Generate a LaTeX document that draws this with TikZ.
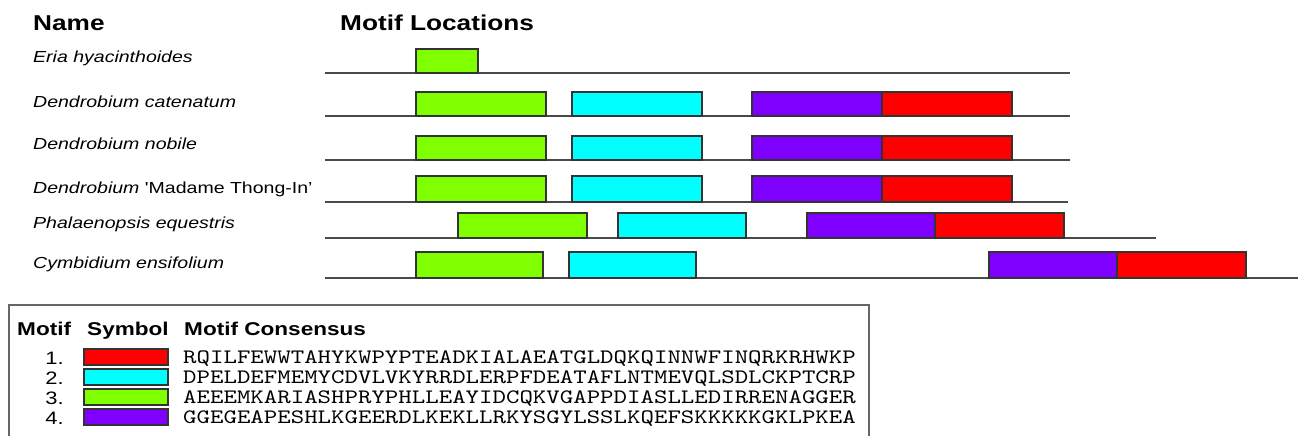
\documentclass[tikz,border=0pt]{standalone}
\usepackage{fontspec}
\usepackage{xcolor}
\newfontfamily\widesans{Liberation Sans}[FakeStretch=1.22]
\newfontfamily\widemono{lmmono10-regular.otf}[FakeStretch=1.25]
\definecolor{motifred}{HTML}{FF0000}
\definecolor{motifcyan}{HTML}{00FFFF}
\definecolor{motifgreen}{HTML}{80FF00}
\definecolor{motifpurple}{HTML}{8000FF}
\definecolor{seqline}{HTML}{4A4A4A}
\definecolor{legendframe}{HTML}{666666}

\begin{document}
\begin{tikzpicture}[x=1pt, y=-1pt,
  head/.style={anchor=base west, inner sep=0pt, font=\widesans\fontsize{21.5}{24}\selectfont\bfseries},
  species/.style={anchor=base west, inner sep=0pt, font=\widesans\fontsize{16}{19}\selectfont\itshape},
  seq/.style={draw=seqline, line width=2pt},
  motifbox/.style={draw=black!80, line width=1.4pt},
  legendhead/.style={anchor=base west, inner sep=0pt, font=\widesans\fontsize{18.5}{21}\selectfont\bfseries},
  motifnum/.style={anchor=base east, inner sep=0pt, font=\widesans\fontsize{18}{20}\selectfont},
  consensus/.style={anchor=base west, inner sep=0pt, font=\widemono\fontsize{20.5}{22}\selectfont}
]
\useasboundingbox[fill=white] (0,0) rectangle (1298,436);

% headers
\node[head] (namehead) at (33,31) {Name};
\node[head] (lochead) at (340,31) {Motif Locations};

% species
\node[species] (eria) at (33,63) {Eria hyacinthoides};
\node[species] (dcat) at (33,107) {Dendrobium catenatum};
\node[species] (dnob) at (33,149) {Dendrobium nobile};
\node[species] (dmad) at (33,193) {Dendrobium \textup{'Madame Thong-In’}};
\node[species] (phal) at (33,228) {Phalaenopsis equestris};
\node[species] (cymb) at (33,268) {Cymbidium ensifolium};

% sequence lines
\draw[seq] (325,73) -- (1070,73);
\draw[seq] (325,116) -- (1070,116);
\draw[seq] (325,160) -- (1070,160);
\draw[seq] (325,202) -- (1068,202);
\draw[seq] (325,238) -- (1156,238);
\draw[seq] (325,278) -- (1298,278);

% motif locations
\draw[motifbox, fill=motifgreen] (416,49) rectangle (478,73);

\draw[motifbox, fill=motifgreen] (416,92) rectangle (546,116);
\draw[motifbox, fill=motifcyan] (572,92) rectangle (702,116);
\draw[motifbox, fill=motifpurple] (752,92) rectangle (882,116);
\draw[motifbox, fill=motifred] (882,92) rectangle (1012,116);

\draw[motifbox, fill=motifgreen] (416,136) rectangle (546,160);
\draw[motifbox, fill=motifcyan] (572,136) rectangle (702,160);
\draw[motifbox, fill=motifpurple] (752,136) rectangle (882,160);
\draw[motifbox, fill=motifred] (882,136) rectangle (1012,160);

\draw[motifbox, fill=motifgreen] (416,176) rectangle (546,202);
\draw[motifbox, fill=motifcyan] (572,176) rectangle (702,202);
\draw[motifbox, fill=motifpurple] (752,176) rectangle (882,202);
\draw[motifbox, fill=motifred] (882,176) rectangle (1012,202);

\draw[motifbox, fill=motifgreen] (458,213) rectangle (587,238);
\draw[motifbox, fill=motifcyan] (618,213) rectangle (746,238);
\draw[motifbox, fill=motifpurple] (807,213) rectangle (935,238);
\draw[motifbox, fill=motifred] (935,213) rectangle (1064,238);

\draw[motifbox, fill=motifgreen] (416,252) rectangle (543,278);
\draw[motifbox, fill=motifcyan] (569,252) rectangle (696,278);
\draw[motifbox, fill=motifpurple] (989,252) rectangle (1117,278);
\draw[motifbox, fill=motifred] (1117,252) rectangle (1246,278);

% legend
\draw[legendframe, line width=2pt] (9,437) -- (9,305) -- (869,305) -- (869,437);
\node[legendhead] (motifcol) at (17,335) {Motif};
\node[legendhead] (symbolcol) at (87,335) {Symbol};
\node[legendhead] (conscol) at (184,335) {Motif Consensus};

\node[motifnum] (num1) at (64,364) {1.};
\node[motifnum] (num2) at (64,384) {2.};
\node[motifnum] (num3) at (64,404) {3.};
\node[motifnum] (num4) at (64,424) {4.};

\draw[motifbox, fill=motifred] (84,349) rectangle (168,365);
\draw[motifbox, fill=motifcyan] (84,369) rectangle (168,385);
\draw[motifbox, fill=motifgreen] (84,389) rectangle (168,405);
\draw[motifbox, fill=motifpurple] (84,409) rectangle (168,425);

\node[consensus] (cons1) at (183,363) {RQILFEWWTAHYKWPYPTEADKIALAEATGLDQKQINNWFINQRKRHWKP};
\node[consensus] (cons2) at (183,383) {DPELDEFMEMYCDVLVKYRRDLERPFDEATAFLNTMEVQLSDLCKPTCRP};
\node[consensus] (cons3) at (183,403) {AEEEMKARIASHPRYPHLLEAYIDCQKVGAPPDIASLLEDIRRENAGGER};
\node[consensus] (cons4) at (183,423) {GGEGEAPESHLKGEERDLKEKLLRKYSGYLSSLKQEFSKKKKKGKLPKEA};
\end{tikzpicture}
\end{document}
